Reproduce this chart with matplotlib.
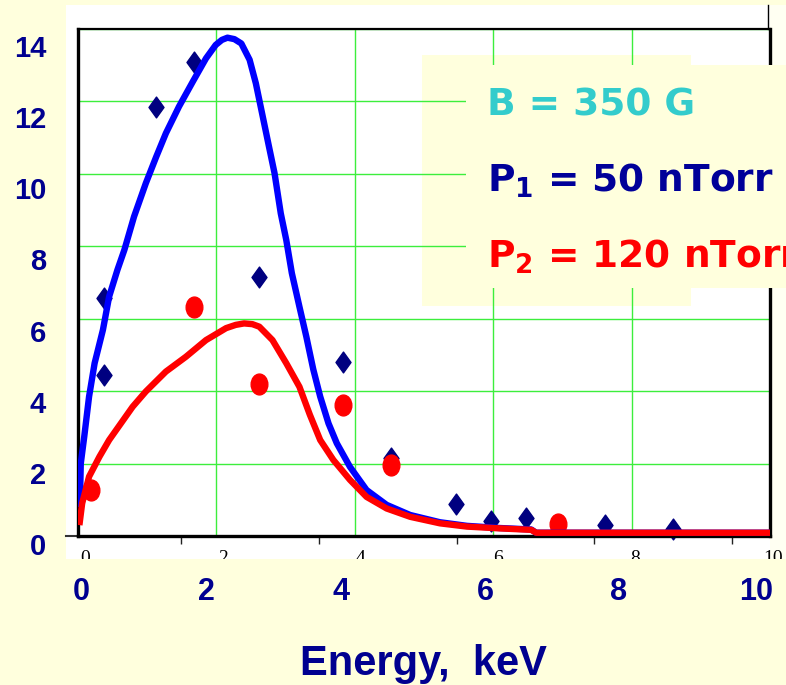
import matplotlib
matplotlib.use('Agg')
import matplotlib.pyplot as plt
from matplotlib.patches import Rectangle
from matplotlib.lines import Line2D
from matplotlib.path import Path
from matplotlib.transforms import Affine2D

# fit curve for P1 = 50 nTorr (energy in keV, signal)
blue_x = [0.02, 0.03, 0.04, 0.09, 0.16, 0.24, 0.36, 0.45, 0.57, 0.67, 0.81, 0.98,
          1.13, 1.27, 1.46, 1.66, 1.85, 1.99, 2.08, 2.16, 2.26, 2.36, 2.48, 2.57, 2.67, 2.76,
          2.84, 2.93, 3.01, 3.09, 3.20, 3.30, 3.40, 3.50, 3.62, 3.74, 3.93, 4.17,
          4.46, 4.80, 5.23, 5.62, 6.10, 6.55, 6.62, 10.0]
blue_y = [0.8, 1.1, 2.0, 2.74, 3.85, 4.77, 5.69, 6.61, 7.35, 7.9, 8.82, 9.74,
          10.47, 11.12, 11.86, 12.55, 13.19, 13.56, 13.7, 13.76, 13.72, 13.6, 13.15, 12.5, 11.58, 10.75,
          10.02, 8.91, 8.17, 7.26, 6.33, 5.5, 4.6, 3.85, 3.11, 2.56, 1.91, 1.27,
          0.86, 0.58, 0.38, 0.28, 0.22, 0.18, 0.09, 0.09]

# fit curve for P2 = 120 nTorr
red_x = [0.02, 0.03, 0.06, 0.16, 0.31, 0.45, 0.62, 0.79, 0.98, 1.27, 1.56, 1.85,
         2.14, 2.28, 2.40, 2.52, 2.62, 2.81, 3.01, 3.20, 3.35, 3.50, 3.69, 3.93, 4.17, 4.46,
         4.80, 5.23, 5.62, 6.10, 6.55, 6.62, 10.0]
red_y = [0.3, 0.45, 0.9, 1.64, 2.19, 2.65, 3.11, 3.57, 3.99, 4.54, 4.95, 5.41,
         5.74, 5.83, 5.87, 5.85, 5.78, 5.41, 4.77, 4.12, 3.35, 2.65, 2.10, 1.55, 1.08, 0.76,
         0.53, 0.35, 0.26, 0.21, 0.17, 0.09, 0.09]

# measured points
p1_x = [0.37, 0.38, 1.13, 1.67, 2.62, 3.83, 4.53, 5.46, 5.97, 6.47, 7.62, 8.60]
p1_y = [4.45, 6.56, 11.84, 13.10, 7.15, 4.81, 2.15, 0.87, 0.42, 0.49, 0.30, 0.19]
p2_x = [0.19, 1.67, 2.61, 3.83, 4.52, 6.94]
p2_y = [1.27, 6.31, 4.19, 3.62, 1.96, 0.32]

y_labels = ['0', '2', '4', '6', '8', '10', '12', '14']
x_labels = ['0', '2', '4', '6', '8', '10']
inner_minor = [1.4, 3.4, 5.4, 7.4, 9.4]

W, H = 786, 685
YELLOW = '#FFFFDD'
NAVY = '#000090'


def fx(px):
    return px / W


def fy(py):
    return 1 - py / H


def rect_px(x0, y0, x1, y1):
    return [fx(x0), fy(y1), (x1 - x0) / W, (y1 - y0) / H]


fig = plt.figure(figsize=(W / 100, H / 100), dpi=100, facecolor=YELLOW)

# background pieces of the pasted chart
def add_box(x0, y0, x1, y1, color, z):
    r = Rectangle((fx(x0), fy(y1)), (x1 - x0) / W, (y1 - y0) / H,
                  transform=fig.transFigure, facecolor=color, edgecolor='none', zorder=z)
    fig.patches.append(r)

add_box(66, 5, 770, 559, 'white', -3)
add_box(770, 5, 786, 559, '#FFFFF2', -3)
add_box(422, 55, 691, 306, YELLOW, -2)
fig.lines.append(Line2D([fx(768), fx(768)], [fy(5), fy(29)], transform=fig.transFigure,
                        color='black', lw=1, zorder=-1))
fig.lines.append(Line2D([fx(66), fx(78)], [fy(536), fy(536)], transform=fig.transFigure,
                        color='#333333', lw=1.5, zorder=-1))

# main plot
ax = fig.add_axes(rect_px(78, 29, 770, 536))
ax.set_zorder(1)
ax.patch.set_alpha(0)
ax.set_xlim(0, 10)
ax.set_ylim(0, 14)
ax.set_xticks(range(0, 11, 2))
ax.set_yticks(range(0, 15, 2))
ax.tick_params(length=0, labelbottom=False, labelleft=False)
ax.grid(True, color='#3CEE3C', lw=1.0)
ax.set_axisbelow(True)
for side in ['left', 'right', 'bottom']:
    ax.spines[side].set_linewidth(2.4)
ax.spines['top'].set_linewidth(1.6)

diamond = Path([(0, 1), (0.72, 0), (0, -1), (-0.72, 0), (0, 1)], closed=True)
ellipse = Affine2D().scale(0.8, 1).transform_path(Path.unit_circle())

ax.plot(p1_x, p1_y, linestyle='none', marker=diamond, markersize=15,
        color='#000080', zorder=2, clip_on=False)
ax.plot(p2_x, p2_y, linestyle='none', marker=ellipse, markersize=15,
        color='#FF0000', zorder=3, clip_on=False)
ax.plot(blue_x, blue_y, color='#0000FF', lw=4.6, zorder=4,
        solid_joinstyle='round', solid_capstyle='butt')
ax.plot(red_x, red_y, color='#FF0000', lw=4.6, zorder=5,
        solid_joinstyle='round', solid_capstyle='butt')

# inner category axis, mostly hidden under the slide
ax_in = fig.add_axes(rect_px(85, 535, 773, 536))
ax_in.set_zorder(0)
ax_in.patch.set_alpha(0)
for s in ax_in.spines.values():
    s.set_visible(False)
ax_in.yaxis.set_visible(False)
ax_in.set_xlim(0, 10)
ax_in.set_xticks(range(0, 11, 2))
ax_in.set_xticklabels(x_labels, family='Liberation Serif', fontsize=14)
ax_in.set_xticks(inner_minor, minor=True)
ax_in.tick_params(which='major', length=0, pad=10)
ax_in.tick_params(which='minor', length=6, width=1, color='#222222')

# text box over the chart
add_box(466, 65, 786, 288, YELLOW, 2)
fig.text(fx(487), fy(115), 'B = 350 G', color='#33CCCC', fontsize=27,
         fontweight='bold', family='DejaVu Sans', va='baseline', zorder=3)
fig.text(fx(487), fy(192), r'P$_{\mathbf{1}}$ = 50 nTorr', color='#000099', fontsize=27,
         fontweight='bold', family='DejaVu Sans', va='baseline', zorder=3)
fig.text(fx(487), fy(268), r'P$_{\mathbf{2}}$ = 120 nTorr', color='#FF0000', fontsize=27,
         fontweight='bold', family='DejaVu Sans', va='baseline', zorder=3)

# slide band covering the bottom of the chart
add_box(0, 559, 786, 685, YELLOW, 4)

# slide axis labels
for i, lbl in enumerate(y_labels):
    base = 555 - i * (555 - 57) / (len(y_labels) - 1)
    fig.text(fx(46), fy(base), lbl, ha='right', va='baseline', color=NAVY,
             fontsize=21, fontweight='bold', family='Liberation Sans', zorder=5)

x_label_px = [81, 206, 341, 485, 619, 756]
for px, lbl in zip(x_label_px, x_labels):
    fig.text(fx(px), fy(600), lbl, ha='center', va='baseline', color=NAVY,
             fontsize=22, fontweight='bold', family='Liberation Sans', zorder=5)

fig.text(fx(423), fy(675), 'Energy,  keV', ha='center', va='baseline', color=NAVY,
         fontsize=30, fontweight='bold', family='Liberation Sans', zorder=5)

fig.savefig('out.png', dpi=100, facecolor=YELLOW)
